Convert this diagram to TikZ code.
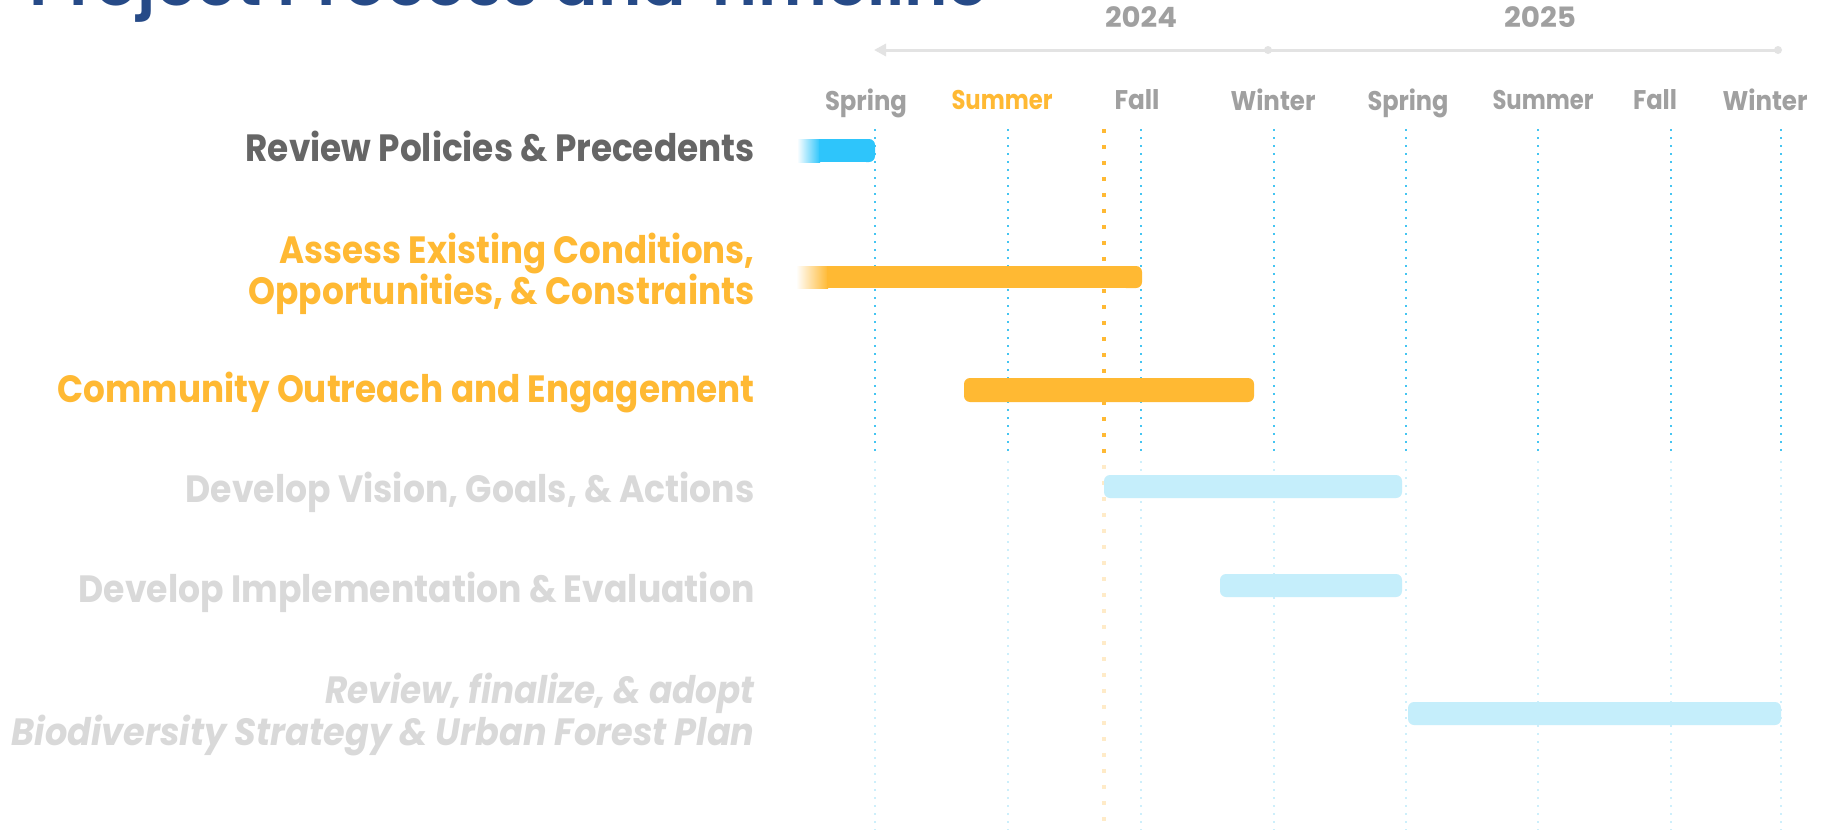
\documentclass[tikz,border=0pt]{standalone}
\usepackage{fontspec}
\usepackage{graphicx}
\setmainfont{Poppins}
\newfontfamily\titlefont{Poppins SemiBold}
\usetikzlibrary{arrows.meta}
\definecolor{titleblue}{HTML}{264A87}
\definecolor{labgray}{HTML}{666666}
\definecolor{orng}{HTML}{FFB933}
\definecolor{palegray}{HTML}{D9D9D9}
\definecolor{seasongray}{HTML}{A0A0A0}
\definecolor{barblue}{HTML}{2EC5FB}
\definecolor{palebar}{HTML}{C5EEFB}
\definecolor{gridblue}{HTML}{45C5F2}
\definecolor{gridpale}{HTML}{CDEFFB}
\definecolor{orngpale}{HTML}{FFEBC8}
\definecolor{axiscol}{HTML}{E3E3E3}
\newcommand{\fitw}[2]{\resizebox{#1pt}{\height}{#2}}
\begin{document}
\begin{tikzpicture}[x=0.5pt,y=-0.5pt,
  lab/.style={anchor=base east, inner sep=0pt, font=\fontsize{19}{21}\selectfont\bfseries},
  season/.style={anchor=base, inner sep=0pt, text=seasongray, font=\fontsize{13.5}{15}\selectfont\bfseries},
  yearlab/.style={anchor=base, inner sep=0pt, text=seasongray, font=\fontsize{14}{16}\selectfont\bfseries},
  gridstrong/.style={draw=gridblue, line width=1pt, dash pattern=on 1pt off 3pt},
  gridfaint/.style={draw=gridpale, line width=1pt, dash pattern=on 1pt off 3pt},
  odot/.style={draw=orng, line width=2pt, dash pattern=on 2pt off 6pt},
  odotfaint/.style={draw=orngpale, line width=2pt, dash pattern=on 2pt off 6pt},
  axisline/.style={draw=axiscol, line width=1.5pt}]
\useasboundingbox (0,0) rectangle (1822,830);
\fill[white] (0,0) rectangle (1822,830);

% title (cut off at the top)
\node[anchor=base west, inner sep=0pt, text=titleblue, font=\fontsize{32}{34}\selectfont\titlefont] (title) at (29,5) {\fitw{479.5}{Project Process and Timeline}};

% years and axis
\node[yearlab] (y2024) at (1141,28) {\fitw{36}{2024}};
\node[yearlab] (y2025) at (1540,28) {\fitw{36}{2025}};
\coordinate (axL) at (874,50);
\coordinate (axM) at (1268,50);
\coordinate (axR) at (1778,50);
\draw[axisline, {Triangle[length=6pt,width=6pt]}-] (axL) -- (axR);
\fill[axiscol] (axM) circle[radius=4];
\fill[axiscol] (axR) circle[radius=4];

% seasons
\node[season, text=seasongray] (s1) at (866,110) {\fitw{41}{Spring}};
\node[season, text=orng] (s2) at (1002,110) {\fitw{50.5}{Summer}};
\node[season] (s3) at (1137,110) {\fitw{22.5}{Fall}};
\node[season] (s4) at (1273,110) {\fitw{42.5}{Winter}};
\node[season] (s5) at (1408,110) {\fitw{40.5}{Spring}};
\node[season] (s6) at (1543,110) {\fitw{50.5}{Summer}};
\node[season] (s7) at (1655,110) {\fitw{22}{Fall}};
\node[season] (s8) at (1765,110) {\fitw{42.5}{Winter}};

% grid lines
\foreach \gx in {875,1008,1141,1274,1406,1538,1671,1781}{
  \draw[gridstrong] (\gx,129) -- (\gx,453);
  \draw[gridfaint] (\gx,461) -- (\gx,830);
}
\draw[odot] (1104,129) -- (1104,457);
\draw[odotfaint] (1104,465) -- (1104,830);

% bars
\shade[left color=white, right color=barblue] (797,139) rectangle (820,162);
\fill[barblue] (819,139) rectangle (868,162);
\fill[barblue, rounded corners=3] (860,139) rectangle (875,162);

\shade[left color=white, right color=orng] (796,266) rectangle (828,288);
\fill[orng] (827,266) rectangle (1130,288);
\fill[orng, rounded corners=3] (1120,266) rectangle (1142,288);

\fill[orng, rounded corners=3] (964,378) rectangle (1254,402);
\fill[palebar, rounded corners=3] (1104,475) rectangle (1402,498);
\fill[palebar, rounded corners=3] (1220,574) rectangle (1402,597);
\fill[palebar, rounded corners=3] (1408,702) rectangle (1781,725);

% labels
\node[lab, text=labgray] (l1) at (755,162) {\fitw{254.5}{Review Policies \& Precedents}};
\node[lab, text=orng] (l2a) at (755,263) {\fitw{237.5}{Assess Existing Conditions,}};
\node[lab, text=orng] (l2b) at (755,304) {\fitw{253}{Opportunities, \& Constraints}};
\node[lab, text=orng] (l3) at (755,402) {\fitw{348.5}{Community Outreach and Engagement}};
\node[lab, text=palegray] (l4) at (755,502) {\fitw{284.5}{Develop Vision, Goals, \& Actions}};
\node[lab, text=palegray] (l5) at (755,602) {\fitw{338}{Develop Implementation \& Evaluation}};
\node[lab, text=palegray, font=\fontsize{19}{21}\selectfont\bfseries\itshape] (l6a) at (755,703) {\fitw{214.5}{Review, finalize, \& adopt}};
\node[lab, text=palegray, font=\fontsize{19}{21}\selectfont\bfseries\itshape] (l6b) at (755,745) {\fitw{371.5}{Biodiversity Strategy \& Urban Forest Plan}};
\end{tikzpicture}
\end{document}
